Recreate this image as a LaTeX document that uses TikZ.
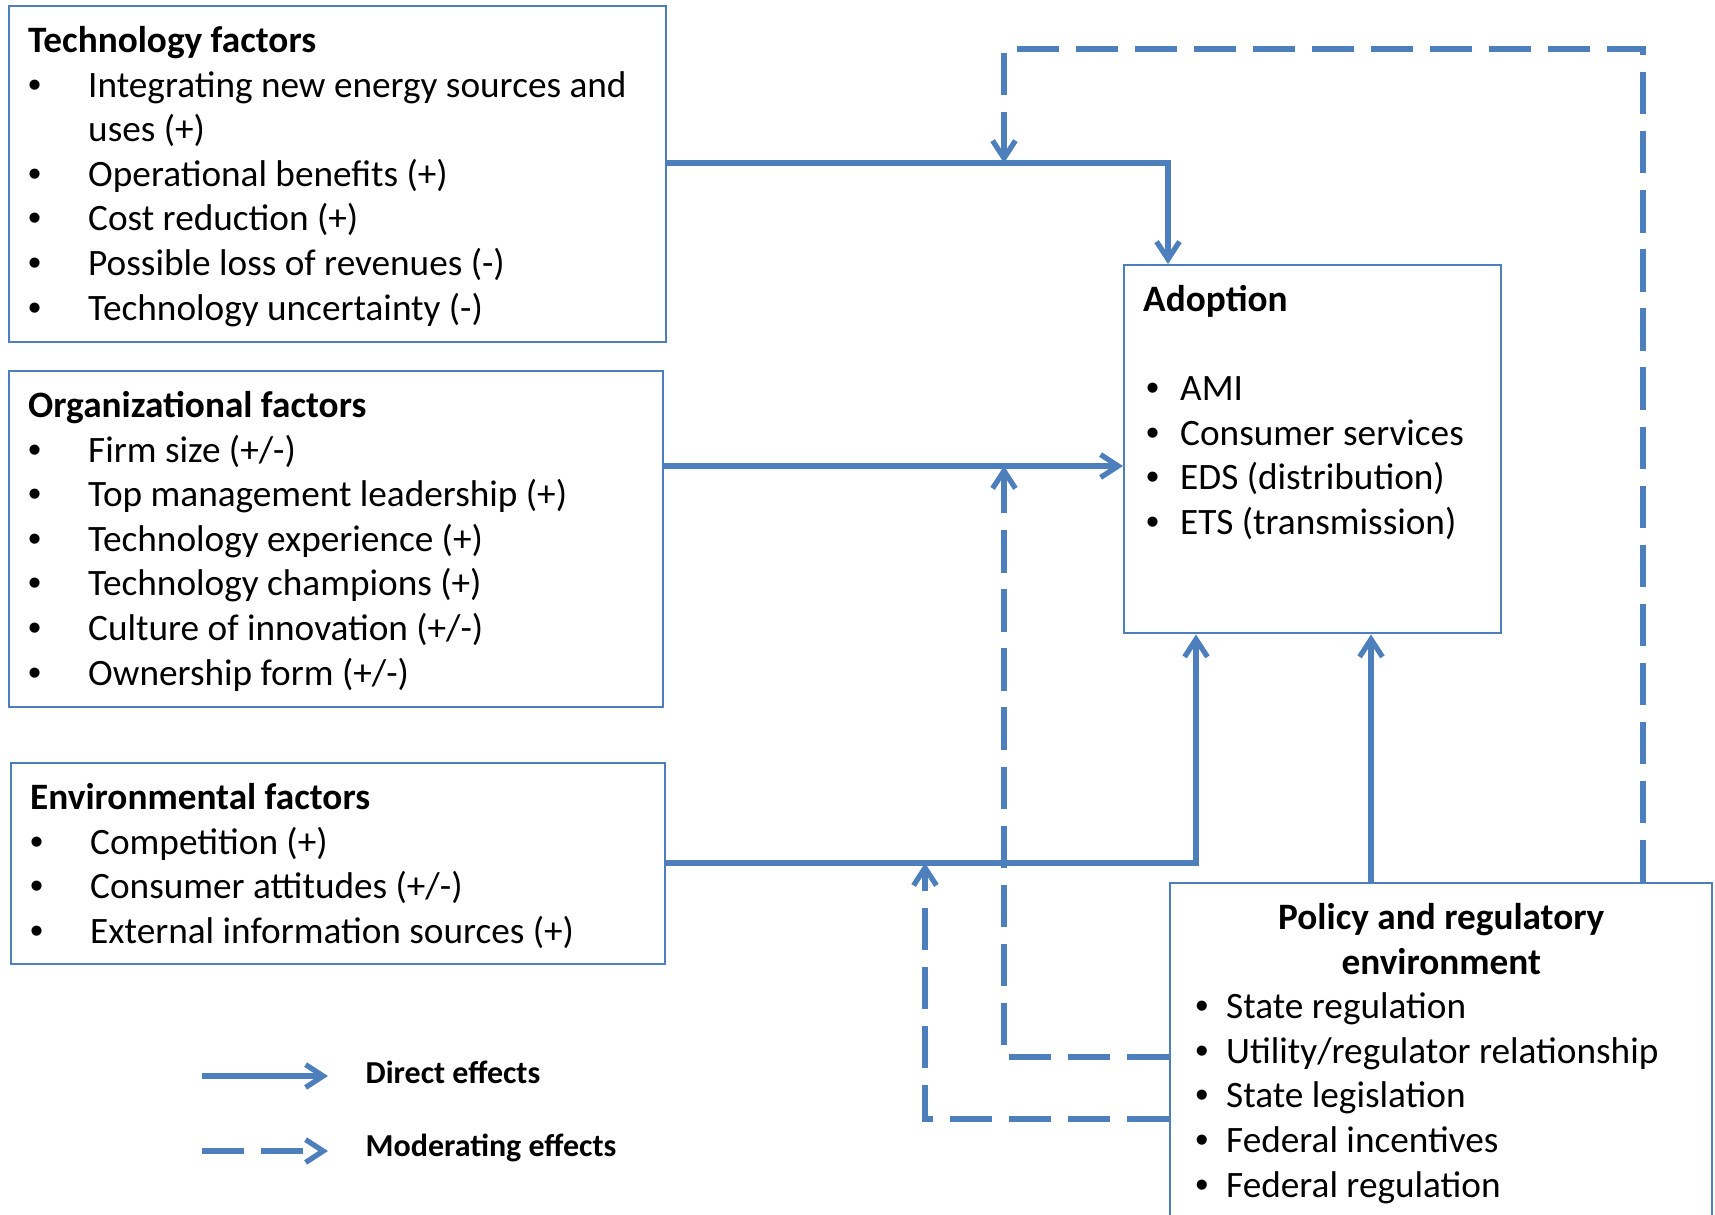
\documentclass[tikz,border=0pt]{standalone}
\usepackage{fontspec}
\setmainfont{Carlito}
\newfontfamily\bulfont{Liberation Sans}
\usepackage{tikz}
\usetikzlibrary{positioning, arrows.meta, calc}

\definecolor{lineblue}{RGB}{76,127,188}

\newlength{\bpos}
\newlength{\tpos}
% bullet line with hanging indent
\newcommand{\bitem}[1]{\par\hangindent=\tpos\hangafter=1\noindent\makebox[\tpos][l]{\hspace*{\bpos}{\bulfont\textbullet}}#1}
% width, height, bullet pos, text pos, content
\newcommand{\boxtext}[5]{\parbox[t][#2][t]{#1}{\setlength{\bpos}{#3}\setlength{\tpos}{#4}\fontsize{10.6}{12.7}\selectfont #5}}

\begin{document}
\begin{tikzpicture}[>={Straight Barb[length=5pt,width=6.5pt]},
    factor/.style={draw=lineblue, line width=0.7pt, anchor=north west, inner xsep=0.19cm, inner ysep=0.2cm},
    direct/.style={->, draw=lineblue, line width=1.5pt},
    moderate/.style={->, draw=lineblue, line width=1.5pt, dash pattern=on 12pt off 4.8pt},
    legtext/.style={anchor=west, inner sep=0pt, font=\fontsize{9.1}{11}\selectfont\bfseries}]
    \useasboundingbox (0,0) rectangle (17.15,-12.14);

    \node[factor] (tech) at (0.08,-0.05) {\boxtext{6.19cm}{2.96cm}{0cm}{0.6cm}{%
        {\bfseries Technology factors}
        \bitem{Integrating new energy sources and\newline uses (+)}
        \bitem{Operational benefits (+)}
        \bitem{Cost reduction (+)}
        \bitem{Possible loss of revenues (-)}
        \bitem{Technology uncertainty (-)}}};
    \node[factor] (org) at (0.08,-3.70) {\boxtext{6.16cm}{2.96cm}{0cm}{0.6cm}{%
        {\bfseries Organizational factors}
        \bitem{Firm size (+/-)}
        \bitem{Top management leadership (+)}
        \bitem{Technology experience (+)}
        \bitem{Technology champions (+)}
        \bitem{Culture of innovation (+/-)}
        \bitem{Ownership form (+/-)}}};
    \node[factor] (env) at (0.10,-7.62) {\boxtext{6.16cm}{1.61cm}{0cm}{0.6cm}{%
        {\bfseries Environmental factors}
        \bitem{Competition (+)}
        \bitem{Consumer attitudes (+/-)}
        \bitem{External information sources (+)}}};
    \node[factor] (adop) at (11.23,-2.64) {\boxtext{3.39cm}{3.28cm}{0.03cm}{0.37cm}{%
        {\bfseries Adoption}\par\mbox{}
        \bitem{AMI}
        \bitem{Consumer services}
        \bitem{EDS (distribution)}
        \bitem{ETS (transmission)}}};
    \node[factor] (policy) at (11.69,-8.82) {\boxtext{5.04cm}{3.6cm}{0.06cm}{0.37cm}{%
        {\centering\bfseries Policy and regulatory\\ environment\par}
        \bitem{State regulation}
        \bitem{Utility/regulator relationship}
        \bitem{State legislation}
        \bitem{Federal incentives}
        \bitem{Federal regulation}}};

    % knees of the connectors
    \coordinate (tk) at (11.68,-1.63);
    \coordinate (ok) at (11.23,-4.66);
    \coordinate (ek) at (11.96,-8.63);
    \coordinate (pk) at (13.71,-8.82);
    \coordinate (m1) at (16.43,-0.49);
    \coordinate (m2) at (10.04,-0.49);
    \coordinate (m3) at (10.04,-10.57);
    \coordinate (m4) at (9.25,-11.19);

    \draw[direct] (tech.east |- tk) -| (tk |- adop.north);
    \draw[direct] (org.east |- ok) -- (adop.west |- ok);
    \draw[direct] (env.east |- ek) -| (ek |- adop.south);
    \draw[direct] (policy.north -| pk) -- (pk |- adop.south);

    \draw[moderate] (policy.north -| m1) |- (m2) -- (m2 |- tk);
    \draw[moderate] (policy.west |- m3) -- (m3) -- (m3 |- ok);
    \draw[moderate] (policy.west |- m4) -- (m4) -- (m4 |- ek);

    % legend
    \coordinate (ds) at (2.02,-10.76);
    \coordinate (de) at (3.28,-10.76);
    \coordinate (ms) at (2.02,-11.51);
    \coordinate (me) at (3.28,-11.51);
    \node[legtext] (ldirect) at (3.65,-10.72) {Direct effects};
    \node[legtext] (lmod) at (3.65,-11.48) {Moderating effects};
    \draw[direct] (ds) -- (de);
    \draw[moderate] (ms) -- (me);
\end{tikzpicture}
\end{document}
